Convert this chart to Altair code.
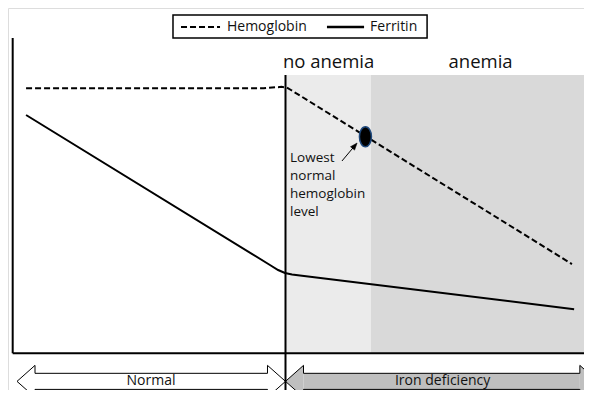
import altair as alt
import pandas as pd

FONT = "Open Sans"

# ---------------- data (abstract units: time on x, level on y) ----------------
hb_x = [0.49, 9.2, 9.85, 10.05, 10.2, 20.5]
hb_y = [84.05, 84.05, 84.5, 84.3, 83.5, 28.3]

fe_x = [0.49, 9.43, 9.73, 9.98, 10.24, 10.53, 20.58]
fe_y = [75.58, 28.0, 26.42, 25.47, 24.99, 24.68, 13.99]

phase_names = ["no anemia", "anemia"]
phase_start = [10.0, 13.13]
phase_end = [13.13, 21.25]
phase_top = [88.27, 88.27]
phase_colors = ["#ebebeb", "#d9d9d9"]
header_x = [11.58, 17.15]
header_y = [90.5, 90.5]

lowest_x = [12.93]
lowest_y = [68.66]
annot_lines = ["Lowest", "normal", "hemoglobin", "level"]
annot_x = [10.165, 10.165, 10.165, 10.165]
annot_y = [61.94, 56.23, 50.52, 44.81]
arrow_tail = [12.07, 60.99]
arrow_head = [12.52, 65.62]

stage_names = ["Normal", "Iron deficiency"]
stage_start = [0.158, 10.0]
stage_end = [10.0, 21.45]
stage_fill = ["#ffffff", "#bfbfbf"]
stage_text_x = [5.07, 15.76]
stage_center = -8.9
head_half = 5.07
body_half = 2.55
head_len = 0.66

legend_names = ["Hemoglobin", "Ferritin"]
legend_box = [5.876, 15.19, 100.0, 107.3]
legend_line_x = [6.17, 11.52]
legend_line_x2 = [7.60, 12.88]
legend_text_x = [7.855, 13.1]
legend_y = [103.5, 103.5]

axis_top = 100.0
axis_right = 21.2
x_domain = [-0.172, 20.942]
y_domain = [-11.64, 109.51]

# ---------------- scales ----------------
xs = alt.Scale(domain=x_domain, nice=False, zero=False, padding=0)
ys = alt.Scale(domain=y_domain, nice=False, zero=False, padding=0)


def X(f="x"):
    return alt.X(f"{f}:Q", scale=xs, axis=None)


def Y(f="y"):
    return alt.Y(f"{f}:Q", scale=ys, axis=None)


# ---------------- background phases ----------------
phases = pd.DataFrame({"name": phase_names, "x": phase_start, "x2": phase_end,
                       "y": [0, 0], "y2": phase_top, "hx": header_x, "hy": header_y})
bg = alt.Chart(phases).mark_rect(strokeWidth=0).encode(
    x=X(), x2="x2:Q", y=Y(), y2="y2:Q",
    color=alt.Color("name:N", scale=alt.Scale(domain=phase_names, range=phase_colors), legend=None),
)
headers = alt.Chart(phases).mark_text(font=FONT, fontSize=18.5, baseline="alphabetic",
                                      align="center", color="#111111").encode(
    x=X("hx"), y=Y("hy"), text="name:N")

# ---------------- series ----------------
hb = pd.DataFrame({"x": hb_x, "y": hb_y, "i": range(len(hb_x))})
fe = pd.DataFrame({"x": fe_x, "y": fe_y, "i": range(len(fe_x))})
hb_line = alt.Chart(hb).mark_line(color="black", strokeWidth=2, strokeDash=[6, 3]).encode(
    x=X(), y=Y(), order="i:Q")
fe_line = alt.Chart(fe).mark_line(color="black", strokeWidth=2).encode(
    x=X(), y=Y(), order="i:Q")

# ---------------- axes as rules ----------------
axes = pd.DataFrame({"x": [0.0, 0.0], "x2": [0.0, axis_right], "y": [0.0, 0.0], "y2": [axis_top, 0.0]})
axis_rules = alt.Chart(axes).mark_rule(color="black", strokeWidth=2).encode(
    x=X(), x2="x2:Q", y=Y(), y2="y2:Q")
divider = alt.Chart(pd.DataFrame({"x": [10.0], "y": [phase_top[0]], "y2": [y_domain[0]]})).mark_rule(
    color="black", strokeWidth=2).encode(x=X(), y=Y(), y2="y2:Q")

# ---------------- lowest normal hemoglobin marker ----------------
dot = alt.Chart(pd.DataFrame({"x": lowest_x, "y": lowest_y})).mark_point(
    shape="M0,-1A0.6,1,0,1,1,0,1A0.6,1,0,1,1,0,-1Z", size=400, filled=True,
    fill="black", stroke="#1f497d", strokeWidth=1.5, opacity=1).encode(x=X(), y=Y())
annot = alt.Chart(pd.DataFrame({"t": annot_lines, "x": annot_x, "y": annot_y})).mark_text(
    font=FONT, fontSize=13.5, align="left", baseline="middle", color="#111111").encode(
    x=X(), y=Y(), text="t:N")
arr_line = alt.Chart(pd.DataFrame({"x": [arrow_tail[0]], "y": [arrow_tail[1]],
                                   "x2": [arrow_head[0]], "y2": [arrow_head[1]]})).mark_rule(
    color="black", strokeWidth=1).encode(x=X(), y=Y(), x2="x2:Q", y2="y2:Q")
arr_head = alt.Chart(pd.DataFrame({"x": [arrow_head[0]], "y": [arrow_head[1]]})).mark_point(
    shape="M0,-1L0.6,0.6L-0.6,0.6Z", size=78, angle=40, filled=True, fill="black",
    stroke="black", strokeWidth=0.5, opacity=1).encode(x=X(), y=Y())

# ---------------- stage arrows ----------------
outline_rows = []
body_rows = []
head_rows = []
for n, x0, x1, col in zip(stage_names, stage_start, stage_end, stage_fill):
    c = stage_center
    a, b = x0 + head_len, x1 - head_len
    pts = [(x0, c), (a, c + head_half), (a, c + body_half), (b, c + body_half),
           (b, c + head_half), (x1, c), (b, c - head_half), (b, c - body_half),
           (a, c - body_half), (a, c - head_half), (x0, c)]
    for i, (px, py) in enumerate(pts):
        outline_rows.append({"stage": n, "x": px, "y": py, "i": i})
    body_rows.append({"stage": n, "x": a, "x2": b, "y": c - body_half, "y2": c + body_half, "col": col})
    head_rows.append({"stage": n, "x": a, "y": c, "side": "left", "col": col})
    head_rows.append({"stage": n, "x": b, "y": c, "side": "right", "col": col})
outline = pd.DataFrame(outline_rows)
bodies = pd.DataFrame(body_rows)
heads = pd.DataFrame(head_rows)

stage_body = alt.Chart(bodies).mark_rect(strokeWidth=0).encode(
    x=X(), x2="x2:Q", y=Y(), y2="y2:Q", fill=alt.Fill("col:N", scale=None))
stage_heads = alt.Chart(heads).mark_point(filled=True, size=1296, opacity=1, strokeWidth=0).encode(
    x=X(), y=Y(), fill=alt.Fill("col:N", scale=None),
    shape=alt.Shape("side:N", scale=alt.Scale(
        domain=["left", "right"],
        range=["M-1,0L0,-0.889L0,0.889Z", "M1,0L0,-0.889L0,0.889Z"]), legend=None))
stage_outline = alt.Chart(outline).mark_line(color="black", strokeWidth=1, strokeJoin="miter").encode(
    x=X(), y=Y(), order="i:Q", detail="stage:N")
stage_text = alt.Chart(pd.DataFrame({"t": stage_names, "x": stage_text_x,
                                     "y": [stage_center, stage_center]})).mark_text(
    font=FONT, fontSize=14, align="center", baseline="middle", color="#111111").encode(
    x=X(), y=Y(), text="t:N")

# ---------------- legend ----------------
lbox = alt.Chart(pd.DataFrame({"x": [legend_box[0]], "x2": [legend_box[1]],
                               "y": [legend_box[2]], "y2": [legend_box[3]]})).mark_rect(
    fill="white", stroke="black", strokeWidth=1.5).encode(x=X(), x2="x2:Q", y=Y(), y2="y2:Q")
leg = pd.DataFrame({"name": legend_names, "x": legend_line_x, "x2": legend_line_x2,
                    "y": legend_y, "tx": legend_text_x})
leg_dash = alt.Chart(leg.iloc[[0]]).mark_rule(color="black", strokeWidth=2, strokeDash=[6, 3]).encode(
    x=X(), x2="x2:Q", y=Y())
leg_solid = alt.Chart(leg.iloc[[1]]).mark_rule(color="black", strokeWidth=2.5).encode(
    x=X(), x2="x2:Q", y=Y())
leg_text = alt.Chart(leg).mark_text(font=FONT, fontSize=14, align="left", baseline="middle",
                                    color="#111111").encode(x=X("tx"), y=Y(), text="name:N")

chart = alt.layer(
    bg, headers, hb_line, fe_line, axis_rules, stage_body, stage_heads, stage_outline, stage_text,
    divider, dot, annot, arr_line, arr_head, lbox, leg_dash, leg_solid, leg_text,
).properties(width=576, height=382, padding=0, autosize=alt.AutoSizeParams(type="none")
).configure_view(stroke=None).configure(background="white")

chart.save("out.html", embed_options={"renderer": "svg", "actions": False})
